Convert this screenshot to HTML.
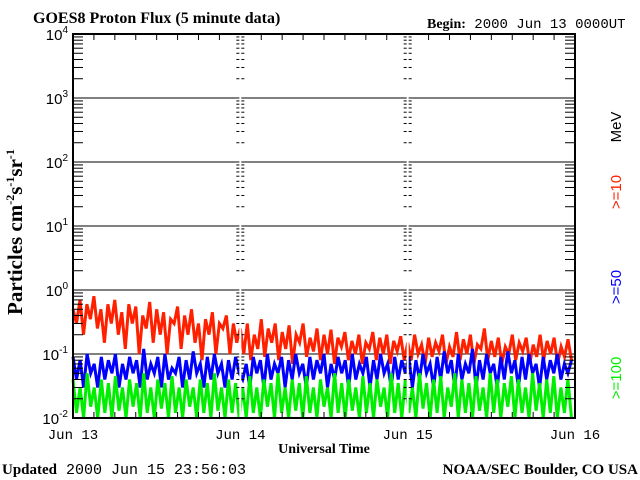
<!DOCTYPE html>
<html><head><meta charset="utf-8"><style>
body{margin:0;background:#fff;width:640px;height:480px;overflow:hidden}
svg{display:block}
.s{font-family:"Liberation Serif",serif;font-weight:bold}
.m{font-family:"Liberation Mono",monospace}
.a{font-family:"Liberation Sans",sans-serif}
</style></head><body>
<svg id="c" width="640" height="480" xmlns="http://www.w3.org/2000/svg">
<text class="s" x="33" y="23" font-size="16">GOES8 Proton Flux (5 minute data)</text>
<text x="427" y="28" font-size="14"><tspan class="s">Begin:</tspan><tspan class="m"> 2000 Jun 13 0000UT</tspan></text>
<text class="s" transform="translate(22,232) rotate(-90)" text-anchor="middle" font-size="21">Particles cm<tspan font-size="12" dy="-8">-2</tspan><tspan dy="8">s</tspan><tspan font-size="12" dy="-8">-1</tspan><tspan dy="8">sr</tspan><tspan font-size="12" dy="-8">-1</tspan></text>
<text class="s" x="324" y="453" text-anchor="middle" font-size="14">Universal Time</text>
<text x="2" y="474" font-size="15"><tspan class="s">Updated</tspan><tspan class="m"> 2000 Jun 15 23:56:03</tspan></text>
<text class="s" x="638" y="474" text-anchor="end" font-size="15">NOAA/SEC Boulder, CO USA</text>
<text class="a" transform="translate(621,127) rotate(-90)" text-anchor="middle" font-size="15" fill="#000">MeV</text>
<text class="a" transform="translate(621,192) rotate(-90)" text-anchor="middle" font-size="15" fill="#ff2000">&gt;=10</text>
<text class="a" transform="translate(621,287) rotate(-90)" text-anchor="middle" font-size="15" fill="#0000ff">&gt;=50</text>
<text class="a" transform="translate(621,378) rotate(-90)" text-anchor="middle" font-size="15" fill="#00ee00">&gt;=100</text>
<g id="g"></g>
</svg>
<script>
const dayLabels=["Jun 13","Jun 14","Jun 15","Jun 16"];
const decades=[-2,-1,0,1,2,3,4];
const red=[0.5,0.3,0.7,0.2,0.6,0.35,0.8,0.25,0.5,0.15,0.6,0.3,0.7,0.2,0.45,0.12,0.6,0.3,0.55,0.1,0.4,0.25,0.65,0.15,0.5,0.2,0.45,0.1,0.35,0.3,0.55,0.12,0.4,0.2,0.5,0.15,0.3,0.08,0.35,0.2,0.45,0.1,0.3,0.25,0.4,0.1,0.3,0.15,
0.25,0.1,0.3,0.08,0.2,0.12,0.35,0.09,0.25,0.15,0.3,0.08,0.22,0.12,0.28,0.07,0.2,0.15,0.3,0.09,0.18,0.11,0.25,0.08,0.2,0.1,0.24,0.07,0.18,0.13,0.22,0.08,0.16,0.1,0.2,0.07,0.15,0.12,0.22,0.08,0.18,0.1,0.2,0.07,0.16,0.11,0.19,0.08,
0.15,0.08,0.2,0.1,0.14,0.07,0.18,0.09,0.15,0.11,0.2,0.07,0.13,0.09,0.22,0.08,0.17,0.1,0.2,0.07,0.14,0.12,0.25,0.08,0.16,0.09,0.18,0.07,0.13,0.1,0.2,0.08,0.15,0.11,0.18,0.07,0.14,0.09,0.2,0.08,0.16,0.1,0.18,0.07,0.13,0.09,0.17,0.08];
const blue=[0.09,0.04,0.08,0.03,0.1,0.05,0.07,0.03,0.09,0.04,0.08,0.05,0.1,0.03,0.07,0.04,0.09,0.05,0.08,0.03,0.12,0.04,0.07,0.05,0.09,0.03,0.1,0.04,0.06,0.05,0.09,0.03,0.08,0.04,0.11,0.05,0.07,0.03,0.09,0.04,0.1,0.05,0.07,0.03,0.08,0.04,0.09,0.05,
0.04,0.07,0.03,0.09,0.05,0.08,0.03,0.1,0.04,0.07,0.05,0.09,0.03,0.08,0.04,0.1,0.05,0.07,0.03,0.09,0.04,0.08,0.05,0.1,0.03,0.07,0.04,0.09,0.05,0.08,0.03,0.1,0.04,0.07,0.05,0.09,0.03,0.08,0.04,0.1,0.05,0.07,0.03,0.09,0.04,0.08,
0.05,0.09,0.03,0.08,0.04,0.1,0.05,0.07,0.03,0.09,0.04,0.11,0.05,0.08,0.03,0.1,0.04,0.07,0.05,0.12,0.03,0.08,0.04,0.1,0.05,0.07,0.03,0.09,0.04,0.11,0.05,0.08,0.03,0.09,0.04,0.1,0.05,0.07,0.03,0.09,0.04,0.08,0.05,0.1,0.04,0.07,0.05,0.08];
const green=[0.04,0.012,0.03,0.01,0.05,0.015,0.03,0.01,0.04,0.012,0.035,0.01,0.045,0.013,0.03,0.01,0.04,0.015,0.035,0.01,0.05,0.012,0.03,0.01,0.04,0.014,0.035,0.01,0.045,0.012,0.03,0.01,0.04,0.015,0.03,0.01,0.04,0.012,0.035,0.01,0.05,0.013,0.03,0.01,0.04,0.012,0.035,0.01,
0.03,0.01,0.045,0.012,0.03,0.01,0.04,0.015,0.035,0.01,0.05,0.012,0.03,0.01,0.04,0.013,0.035,0.01,0.045,0.012,0.03,0.01,0.04,0.015,0.03,0.01,0.05,0.012,0.035,0.01,0.04,0.013,0.03,0.01,0.045,0.012,0.035,0.01,0.04,0.015,0.03,0.01,0.05,0.012,0.035,0.01,
0.04,0.012,0.03,0.01,0.05,0.014,0.035,0.01,0.04,0.012,0.045,0.01,0.03,0.015,0.05,0.01,0.04,0.012,0.035,0.01,0.045,0.013,0.03,0.01,0.05,0.012,0.04,0.01,0.035,0.015,0.045,0.01,0.04,0.012,0.03,0.01,0.05,0.013,0.035,0.01,0.04,0.012,0.045,0.01,0.03,0.012,0.04,0.01];

const X0=73,X1=575,Y0=34,Y1=418;
const xs=h=>X0+(X1-X0)*h/72;
const ys=v=>Y1-(Math.log10(v)+2)*(Y1-Y0)/6;
const g=document.getElementById('g');
const NS='http://www.w3.org/2000/svg';
function mk(t,a){const e=document.createElementNS(NS,t);for(const k in a)e.setAttribute(k,a[k]);g.appendChild(e);return e;}
function ln(x1,y1,x2,y2,name){const e=mk('line',{x1,y1,x2,y2,stroke:'#000','stroke-width':1});

return e;}
decades.forEach(d=>{const y=ys(Math.pow(10,d));if(d>-2&&d<4)ln(X0,y,X1,y,'gridline-1e'+d);});
[[red,'#ff2000','series-ge10'],[blue,'#0000ff','series-ge50'],[green,'#00ee00','series-ge100']].forEach(([d,c,n])=>{
 const pts=d.map((v,i)=>xs(i*72/d.length).toFixed(1)+','+ys(v).toFixed(1)).join(' ');
 const p=mk('polyline',{points:pts,fill:'none',stroke:c,'stroke-width':3,'stroke-linejoin':'miter'});
 
 
});
decades.forEach(d=>{
 const y=ys(Math.pow(10,d));
 const t=mk('text',{x:68,y:y+6,'text-anchor':'end','font-size':15,'font-family':'Liberation Sans,sans-serif'});
 t.textContent='10';
 const s=document.createElementNS(NS,'tspan');s.setAttribute('font-size',10);s.setAttribute('dy',-7);s.textContent=d;t.appendChild(s);
 
 
 if(d<4){for(let m=2;m<=9;m++){const yy=ys(m*Math.pow(10,d));
  ln(X0,yy,X0+10,yy,'y-minor-tick');ln(X1-10,yy,X1,yy,'y-minor-tick');
  [1,2].forEach(k=>{const xd=xs(24*k);ln(xd-4,yy,xd+4,yy,'day-minor-tick');});}}
});
[1,2].forEach(k=>{const e=ln(xs(24*k),Y0,xs(24*k),Y1,'day-line');e.setAttribute('stroke','#fff');e.setAttribute('stroke-width',2);});
const r=mk('rect',{x:X0,y:Y0,width:X1-X0,height:Y1-Y0,fill:'none',stroke:'#000','stroke-width':2});


for(let h=3;h<72;h+=3){const x=xs(h);if(h%24){ln(x,Y0,x,Y0+6,'x-tick-top');ln(x,Y1-6,x,Y1,'x-tick-bottom');}}
dayLabels.forEach((l,i)=>{const t=mk('text',{x:xs(24*i),y:439,'text-anchor':'middle','font-size':14,'font-family':'Liberation Mono,monospace'});
 t.textContent=l;
 
 });
</script>
</body></html>
